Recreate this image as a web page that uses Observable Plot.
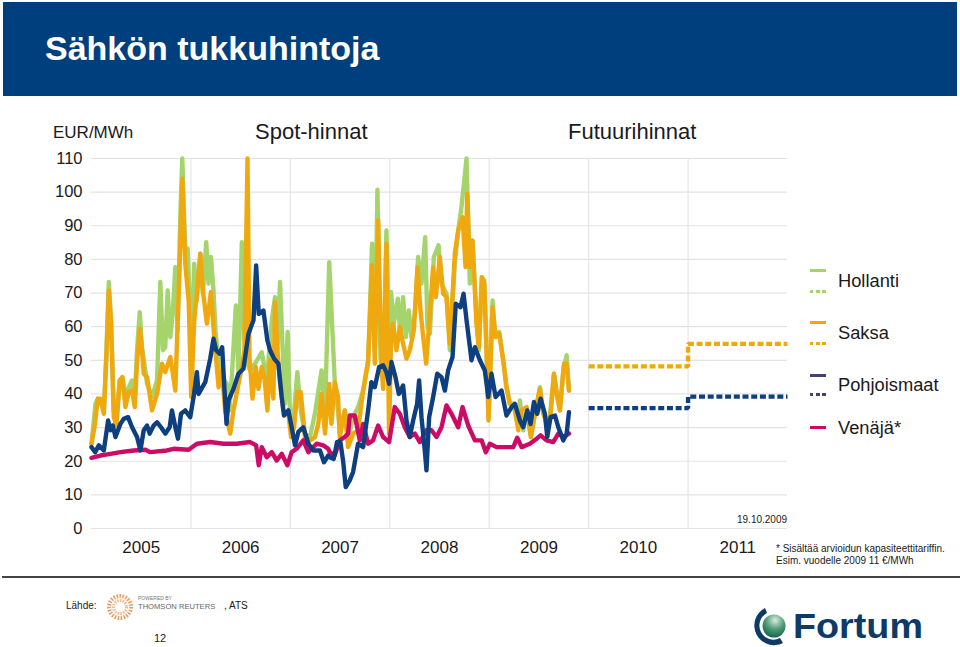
<!DOCTYPE html>
<html><head><meta charset="utf-8">
<script src="https://cdn.jsdelivr.net/npm/d3@7"></script>
<script src="https://cdn.jsdelivr.net/npm/@observablehq/plot@0.6"></script>
<style>
html,body{margin:0;padding:0;background:#fff}
body{width:960px;height:647px;position:relative;overflow:hidden;font-family:"Liberation Sans",Arial,sans-serif;color:#1a1a1a}
.t{position:absolute;white-space:nowrap;line-height:1}
.sw{position:absolute;left:810px;width:16px;height:3px}
#chart{position:absolute;left:0;top:0}
#chart svg{display:block}
</style></head><body>
<div style="position:absolute;left:3px;top:2px;width:954px;height:94px;background:#003f7d"></div>
<div class="t" style="left:45px;top:31px;font-size:34px;font-weight:bold;color:#fff">Sähkön tukkuhintoja</div>
<div id="chart"></div>
<div class="t" style="left:53px;top:124px;font-size:17px">EUR/MWh</div>
<div class="t" style="left:255px;top:121px;font-size:22px">Spot-hinnat</div>
<div class="t" style="left:568px;top:121px;font-size:22px">Futuurihinnat</div>
<div class="t" style="left:737px;top:515px;font-size:10px">19.10.2009</div>
<div class="t" style="left:776px;top:544px;font-size:10px">* Sisältää arvioidun kapasiteettitariffin.<br><span style="line-height:14px">Esim. vuodelle 2009 11 €/MWh</span></div>
<div id="legend"></div>
<div style="position:absolute;left:2px;top:576px;width:958px;height:2px;background:#444"></div>
<div class="t" style="left:66px;top:601px;font-size:10px">Lähde:</div>
<svg style="position:absolute;left:106px;top:593px" width="28" height="28"><circle cx="14" cy="14" r="11" fill="none" stroke="#ee9a5a" stroke-width="4" stroke-dasharray="1.5 1.5"/><circle cx="14" cy="14" r="6.5" fill="none" stroke="#f2b98c" stroke-width="3" stroke-dasharray="1.5 1.2"/></svg>
<div class="t" style="left:138px;top:596px;font-size:5px;color:#777">POWERED BY</div>
<div class="t" style="left:138px;top:603px;font-size:7.6px;color:#666">THOMSON REUTERS</div>
<div class="t" style="left:224px;top:601px;font-size:10px">, ATS</div>
<div class="t" style="left:154px;top:633px;font-size:11px">12</div>
<svg style="position:absolute;left:750px;top:604px" width="200" height="42">
<defs><radialGradient id="g" cx="55%" cy="25%" r="80%"><stop offset="0" stop-color="#d9eedd"/><stop offset="0.5" stop-color="#4f9a77"/><stop offset="1" stop-color="#0c5f4a"/></radialGradient></defs>
<path d="M15 4 A19.5 19.5 0 1 0 33 39 L30 34 A14 14 0 1 1 17 9 Z" fill="#0d3a66"/>
<circle cx="24" cy="22" r="11.5" fill="url(#g)"/>
<text x="43" y="34" font-family="Liberation Sans" font-weight="bold" font-size="35" fill="#0d3a66" textLength="130" lengthAdjust="spacingAndGlyphs">Fortum</text>
</svg>
<script>
const yTicks = d3.range(0, 111, 10);
const yearLines = [2006, 2007, 2008, 2009, 2010, 2011];
const yearLabels = [2005, 2006, 2007, 2008, 2009, 2010, 2011];

const hollanti = [[2005,25.2],[2005.04,37.1],[2005.064,38.6],[2005.09,38.1],[2005.124,35.1],[2005.15,53],[2005.174,73.3],[2005.197,61.9],[2005.224,35.1],[2005.251,33.1],[2005.284,44],[2005.311,45],[2005.341,39.1],[2005.375,42],[2005.408,44],[2005.435,39.1],[2005.458,53],[2005.485,64.3],[2005.508,53.9],[2005.532,49],[2005.559,43],[2005.609,39.1],[2005.659,44],[2005.692,73.3],[2005.719,53],[2005.742,53.9],[2005.766,70.8],[2005.793,56.9],[2005.819,64.8],[2005.843,77.7],[2005.866,58.9],[2005.893,92.6],[2005.913,110],[2005.943,82.7],[2005.967,83.2],[2005.993,62.8],[2006.003,43],[2006.033,78.7],[2006.06,67.8],[2006.094,81.7],[2006.12,69.8],[2006.154,85.1],[2006.177,72.8],[2006.201,80.7],[2006.227,70.8],[2006.247,58.9],[2006.278,49],[2006.311,45],[2006.361,43],[2006.388,35.1],[2006.411,45],[2006.452,66.3],[2006.478,46],[2006.512,85.1],[2006.538,56.9],[2006.569,49],[2006.595,47],[2006.645,49],[2006.712,52.4],[2006.763,44],[2006.813,61.9],[2006.846,68.8],[2006.87,53],[2006.896,73.3],[2006.923,53],[2006.946,37.1],[2006.973,58.4],[2006.997,33.1],[2007.03,32.1],[2007.07,46.5],[2007.104,35.1],[2007.147,28.2],[2007.197,27.2],[2007.247,34.1],[2007.314,47],[2007.348,34.1],[2007.391,79.2],[2007.446,44],[2007.48,35.1],[2007.497,28.2],[2007.547,35.1],[2007.581,26.2],[2007.631,33.1],[2007.681,36.1],[2007.732,41],[2007.782,49],[2007.822,84.7],[2007.849,53],[2007.876,100.7],[2007.906,51],[2007.933,44],[2007.966,88.6],[2007.993,53],[2008.013,70.3],[2008.04,60.9],[2008.081,68.3],[2008.107,56.9],[2008.134,68.8],[2008.161,56.9],[2008.191,64.8],[2008.218,56.9],[2008.252,63.8],[2008.285,80.7],[2008.319,72.8],[2008.356,86.6],[2008.379,59.9],[2008.403,57.9],[2008.443,80.7],[2008.49,84.2],[2008.52,72.8],[2008.57,69.8],[2008.604,53],[2008.654,78.7],[2008.688,88.6],[2008.721,95.6],[2008.772,110],[2008.805,72.8],[2008.832,85.6],[2008.872,62.8],[2008.896,53],[2008.926,74.7],[2008.95,73.8],[2008.973,53],[2008.993,33.1],[2009.034,67.8],[2009.057,57.9],[2009.101,58.4],[2009.141,50],[2009.174,42],[2009.208,37.1],[2009.242,37.1],[2009.282,31.1],[2009.309,38.1],[2009.342,29.2],[2009.376,35.1],[2009.419,27.2],[2009.46,34.1],[2009.51,42],[2009.544,34.1],[2009.577,32.1],[2009.611,33.1],[2009.651,46],[2009.678,41],[2009.711,35.1],[2009.745,47],[2009.779,51.5],[2009.802,41]];

const saksa = [[2005,25.2],[2005.03,30.1],[2005.064,38.6],[2005.09,38.6],[2005.124,34.1],[2005.15,51],[2005.174,70.8],[2005.197,60.9],[2005.224,33.1],[2005.251,30.6],[2005.284,44],[2005.311,45],[2005.341,36.1],[2005.375,40.6],[2005.408,41],[2005.435,36.1],[2005.458,49],[2005.485,59.4],[2005.508,53],[2005.525,46],[2005.559,45],[2005.609,35.1],[2005.659,40],[2005.709,49],[2005.742,46.5],[2005.793,51],[2005.843,41],[2005.886,77.7],[2005.913,104],[2005.943,78.7],[2005.977,67.8],[2006.003,39.1],[2006.033,61.9],[2006.06,69.8],[2006.094,81.7],[2006.12,70.8],[2006.161,60.9],[2006.201,70.3],[2006.234,56.9],[2006.278,42],[2006.311,47],[2006.344,35.1],[2006.395,28.2],[2006.428,35.1],[2006.478,43],[2006.512,48],[2006.538,53],[2006.569,110],[2006.589,51],[2006.619,38.6],[2006.652,48],[2006.679,41.5],[2006.712,48],[2006.739,45],[2006.769,35.1],[2006.796,50],[2006.829,38.6],[2006.846,67.3],[2006.87,53],[2006.896,43],[2006.93,35.1],[2006.98,34.1],[2007.007,27.2],[2007.037,30.1],[2007.07,40.6],[2007.104,40.6],[2007.147,27.2],[2007.204,26.2],[2007.247,27.2],[2007.281,31.1],[2007.314,40],[2007.348,28.2],[2007.391,43],[2007.413,31.1],[2007.446,43.5],[2007.48,39.1],[2007.497,27.2],[2007.547,35.1],[2007.581,24.2],[2007.631,28.2],[2007.681,29.2],[2007.732,41],[2007.782,50],[2007.822,78.2],[2007.849,49],[2007.883,91.6],[2007.916,49],[2007.933,41.5],[2007.966,84.7],[2007.993,28.2],[2008.013,56.9],[2008.034,60.9],[2008.067,53],[2008.101,59.9],[2008.134,54.9],[2008.168,50.5],[2008.201,53],[2008.242,58.9],[2008.279,77.7],[2008.309,64.8],[2008.336,56.9],[2008.366,49],[2008.396,60.9],[2008.436,77.7],[2008.463,68.8],[2008.503,80.7],[2008.537,69.8],[2008.57,68.8],[2008.604,54.9],[2008.654,81.7],[2008.688,88.6],[2008.732,92.6],[2008.762,77.7],[2008.779,99.5],[2008.805,77.7],[2008.832,85.6],[2008.872,60.9],[2008.896,53.9],[2008.926,74.7],[2008.95,72.8],[2008.973,53],[2008.993,32.1],[2009.034,65.8],[2009.064,56.9],[2009.101,57.9],[2009.141,50],[2009.174,42],[2009.208,37.1],[2009.258,36.1],[2009.292,29.2],[2009.326,35.1],[2009.376,36.1],[2009.419,27.2],[2009.46,34.1],[2009.51,41.5],[2009.544,34.1],[2009.584,31.1],[2009.617,34.1],[2009.651,46],[2009.678,40],[2009.711,35.1],[2009.752,49],[2009.779,49],[2009.802,41]];

const pohjoismaat = [[2005,24.2],[2005.037,22.7],[2005.074,24.7],[2005.124,23.2],[2005.167,32.1],[2005.191,29.2],[2005.214,30.6],[2005.241,27.2],[2005.291,31.1],[2005.324,32.6],[2005.368,33.1],[2005.408,30.1],[2005.458,27.2],[2005.492,23.2],[2005.525,29.2],[2005.559,30.6],[2005.585,28.2],[2005.625,30.6],[2005.659,31.6],[2005.699,30.1],[2005.742,28.2],[2005.786,30.1],[2005.809,35.1],[2005.843,30.1],[2005.87,26.7],[2005.9,34.1],[2005.943,35.1],[2005.993,33.1],[2006.027,39.1],[2006.06,46.5],[2006.077,40],[2006.144,43.5],[2006.194,50.5],[2006.227,56.4],[2006.254,53],[2006.288,52],[2006.314,53.9],[2006.338,41],[2006.358,31.1],[2006.378,38.1],[2006.428,41.5],[2006.478,46],[2006.528,47.5],[2006.579,57.9],[2006.629,61.9],[2006.656,78.2],[2006.682,63.8],[2006.729,64.8],[2006.769,55.9],[2006.796,53],[2006.836,50.5],[2006.88,49],[2006.913,39.1],[2006.936,33.6],[2006.98,35.1],[2007.013,30.1],[2007.047,24.7],[2007.08,28.7],[2007.13,30.1],[2007.181,25.2],[2007.231,23.2],[2007.298,23.2],[2007.338,19.7],[2007.381,21.7],[2007.396,21.2],[2007.436,20.7],[2007.47,25.7],[2007.503,25.7],[2007.53,20.2],[2007.557,12.3],[2007.597,14.3],[2007.631,16.8],[2007.681,25.2],[2007.732,24.2],[2007.782,35.1],[2007.815,43.5],[2007.849,42],[2007.893,48],[2007.933,48.5],[2007.966,46.5],[2007.993,43],[2008.017,49.5],[2008.057,45],[2008.091,40],[2008.134,42.5],[2008.168,32.1],[2008.201,27.2],[2008.235,32.1],[2008.275,37.1],[2008.295,44],[2008.319,33.1],[2008.352,23.2],[2008.369,17.3],[2008.396,33.1],[2008.436,39.1],[2008.477,46],[2008.52,45],[2008.554,41],[2008.587,47],[2008.631,51],[2008.664,66.8],[2008.711,65.8],[2008.742,69.8],[2008.772,61.9],[2008.822,50],[2008.856,53.9],[2008.906,50],[2008.956,47],[2008.99,39.1],[2009.023,46],[2009.064,39.1],[2009.124,41],[2009.174,33.6],[2009.225,36.1],[2009.258,37.1],[2009.309,32.1],[2009.342,30.1],[2009.383,35.1],[2009.416,31.1],[2009.45,37.6],[2009.483,34.1],[2009.517,38.6],[2009.56,34.1],[2009.584,27.2],[2009.617,33.1],[2009.661,33.6],[2009.695,30.1],[2009.745,26.2],[2009.779,28.2],[2009.802,34.6]];

const venaja = [[2005,21],[2005.09,21.7],[2005.191,22.2],[2005.291,22.7],[2005.425,23.2],[2005.542,23.4],[2005.592,22.7],[2005.759,23.2],[2005.826,23.7],[2005.977,23.4],[2006.06,25.2],[2006.194,25.7],[2006.328,25.2],[2006.462,25.2],[2006.595,25.7],[2006.656,24.7],[2006.682,18.8],[2006.712,24.2],[2006.763,21.2],[2006.813,22.7],[2006.863,20.2],[2006.913,22.2],[2006.97,18.8],[2007.013,22.7],[2007.063,23.7],[2007.13,26.2],[2007.181,22.7],[2007.264,25.2],[2007.331,24.7],[2007.381,23.7],[2007.396,22.7],[2007.446,21.7],[2007.497,26.2],[2007.547,27.2],[2007.581,28.2],[2007.597,33.6],[2007.648,33.6],[2007.698,26.2],[2007.732,31.1],[2007.782,25.2],[2007.832,26.2],[2007.883,30.6],[2007.933,27.2],[2007.993,25.7],[2008.05,36.1],[2008.101,34.1],[2008.151,30.1],[2008.201,27.2],[2008.252,28.2],[2008.302,25.7],[2008.369,29.2],[2008.419,29.2],[2008.47,27.2],[2008.52,30.1],[2008.57,36.6],[2008.621,34.1],[2008.688,30.1],[2008.732,36.1],[2008.789,30.6],[2008.856,26.2],[2008.923,26.2],[2008.966,22.7],[2009.007,25.2],[2009.074,24.2],[2009.174,24.2],[2009.242,24.2],[2009.282,27],[2009.326,24.2],[2009.409,25.2],[2009.477,26.7],[2009.517,27.7],[2009.577,26.2],[2009.644,25.7],[2009.695,28.2],[2009.745,27.2],[2009.802,28.2]];

const saksaFutures = [[2010,48.2],[2011,48.2],[2011,54.9],[2012,54.9]];
const pohjoismaatFutures = [[2010,35.8],[2011,35.8],[2011,39.2],[2012,39.2]];

const colors = {hollanti:"#a6d46c", saksa:"#efa90f", pohj:"#0e3f80", venaja:"#cc0b66", pohjLegend:"#3f4570"};
const line = (data, stroke, extra = {}) => Plot.line(data, {x: d => d[0], y: d => d[1], stroke, strokeWidth: 4.4, strokeLinejoin: "round", ...extra});
const dashed = {strokeWidth: 4.4, strokeDasharray: "6,2.7", strokeLinecap: "butt", strokeLinejoin: "miter"};

const plot = Plot.plot({
  width: 960, height: 647,
  marginLeft: 91, marginRight: 173, marginTop: 158, marginBottom: 119,
  style: {background: "transparent", fontFamily: "Liberation Sans, Arial, sans-serif", color: "#1a1a1a"},
  x: {domain: [2005, 2012], label: null},
  y: {domain: [0, 110], label: null},
  marks: [
    Plot.ruleY(yTicks, {stroke: "#e3e3e3", strokeWidth: 1.2}),
    Plot.ruleX(yearLines, {stroke: "#e6e6e6", strokeWidth: 1.2}),
    Plot.axisY({ticks: yTicks, tickSize: 0, tickPadding: 9, fontSize: 16.5, label: null}),
    Plot.axisX({ticks: yearLabels.map(y => y + 0.5), tickFormat: d => String(Math.floor(d)), tickSize: 0, tickPadding: 12, fontSize: 17, label: null}),
    line(hollanti, colors.hollanti),
    line(saksa, colors.saksa),
    line(venaja, colors.venaja),
    line(pohjoismaat, colors.pohj),
    line(saksaFutures, colors.saksa, dashed),
    line(pohjoismaatFutures, colors.pohj, dashed)
  ]
});
document.getElementById("chart").append(plot);

const legendRows = [
  {name: "Hollanti", color: colors.hollanti, solid: 270.5, dotted: 291, label: 281},
  {name: "Saksa", color: colors.saksa, solid: 322.5, dotted: 343, label: 333},
  {name: "Pohjoismaat", color: colors.pohjLegend, solid: 375, dotted: 394.5, label: 385},
  {name: "Venäjä*", color: colors.venaja, solid: 427, dotted: null, label: 428}
];
const lg = document.getElementById("legend");
for (const r of legendRows) {
  lg.insertAdjacentHTML("beforeend",
    `<div class="sw" style="top:${r.solid - 1.5}px;background:${r.color}"></div>` +
    (r.dotted ? `<div class="sw" style="top:${r.dotted - 1.5}px;background:repeating-linear-gradient(90deg,${r.color} 0 3.5px,transparent 3.5px 6.2px)"></div>` : "") +
    `<div class="t" style="left:838px;top:${r.label - 9}px;font-size:18.3px">${r.name}</div>`);
}
</script>
</body></html>
